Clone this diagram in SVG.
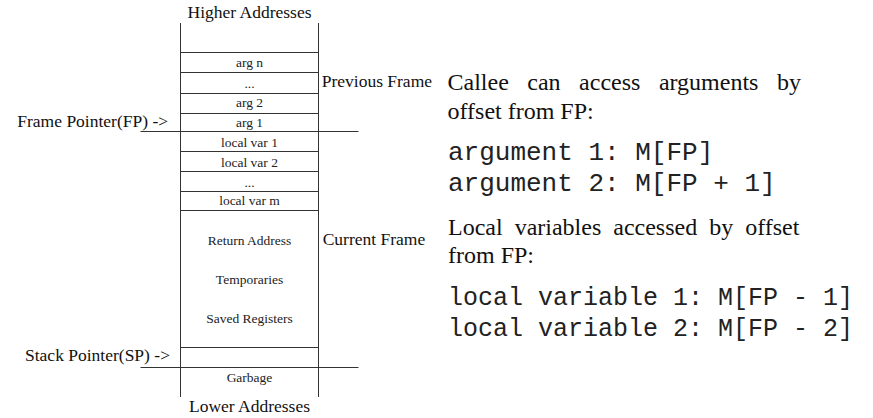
<svg xmlns="http://www.w3.org/2000/svg" width="873" height="418" viewBox="0 0 873 418">
<style>
.ln{stroke:#333;stroke-width:1;fill:none}
.sm{font-family:"Liberation Serif","Times New Roman",serif;font-size:13.5px;fill:#222;text-anchor:middle}
.md{font-family:"Liberation Serif","Times New Roman",serif;font-size:17.5px;fill:#111}
.lg{font-family:"Liberation Serif","Times New Roman",serif;font-size:24px;fill:#111}
.mono{font-family:"Liberation Mono","Courier New",monospace;font-size:25px;fill:#222}
</style>
<rect width="873" height="418" fill="#fff"/>
<g id="stack">
<line class="ln" x1="180.5" y1="23" x2="180.5" y2="397"/>
<line class="ln" x1="318.5" y1="23" x2="318.5" y2="397"/>
<text class="md" x="249.5" y="17.5" text-anchor="middle">Higher Addresses</text>
<text class="md" x="249.5" y="411.5" text-anchor="middle">Lower Addresses</text>
</g>
<g id="row-argn"><line class="ln" x1="180.5" y1="52.5" x2="318.5" y2="52.5"/><text class="sm" x="249.5" y="67.3">arg n</text></g>
<g id="row-argdots"><line class="ln" x1="180.5" y1="72.5" x2="318.5" y2="72.5"/><text class="sm" x="249.5" y="87.5">...</text></g>
<g id="row-arg2"><line class="ln" x1="180.5" y1="93.5" x2="318.5" y2="93.5"/><text class="sm" x="249.5" y="107.3">arg 2</text></g>
<g id="row-arg1"><line class="ln" x1="180.5" y1="113.5" x2="318.5" y2="113.5"/><text class="sm" x="249.5" y="127.3">arg 1</text></g>
<g id="row-local1"><text class="sm" x="249.5" y="146.7">local var 1</text><line class="ln" x1="180.5" y1="151.5" x2="318.5" y2="151.5"/></g>
<g id="row-local2"><text class="sm" x="249.5" y="166.7">local var 2</text><line class="ln" x1="180.5" y1="171.5" x2="318.5" y2="171.5"/></g>
<g id="row-localdots"><text class="sm" x="249.5" y="186.5">...</text><line class="ln" x1="180.5" y1="191.5" x2="318.5" y2="191.5"/></g>
<g id="row-localm"><text class="sm" x="249.5" y="205">local var m</text><line class="ln" x1="180.5" y1="210.5" x2="318.5" y2="210.5"/></g>
<g id="row-frame"><text class="sm" x="249.5" y="245">Return Address</text><text class="sm" x="249.5" y="284">Temporaries</text><text class="sm" x="249.5" y="323">Saved Registers</text><line class="ln" x1="180.5" y1="347.5" x2="318.5" y2="347.5"/></g>
<g id="row-garbage"><text class="sm" x="249.5" y="381.7">Garbage</text></g>
<g id="labels">
<text class="md" x="321.7" y="87.3">Previous Frame</text>
<text class="md" x="322.7" y="245">Current Frame</text>
<text class="md" x="17.3" y="126.7">Frame Pointer(FP) -&gt;</text>
<text class="md" x="25" y="360.7">Stack Pointer(SP) -&gt;</text>
</g>
<g id="connectors">
<line class="ln" x1="140.5" y1="131.5" x2="358.5" y2="131.5"/>
<line class="ln" x1="140.5" y1="367.5" x2="358.5" y2="367.5"/>
</g>
<g id="notes">
<text class="lg" x="447.5" y="90" word-spacing="12.5">Callee can access arguments by</text>
<text class="lg" x="447.5" y="119">offset from FP:</text>
<text class="mono" x="448" y="160" style="font-size:26px">argument 1: M[FP]</text>
<text class="mono" x="448" y="191" style="font-size:26px">argument 2: M[FP + 1]</text>
<text class="lg" x="448" y="235" word-spacing="6">Local variables accessed by offset</text>
<text class="lg" x="448" y="263">from FP:</text>
<text class="mono" x="448" y="305">local variable 1: M[FP - 1]</text>
<text class="mono" x="448" y="336">local variable 2: M[FP - 2]</text>
</g>
</svg>
